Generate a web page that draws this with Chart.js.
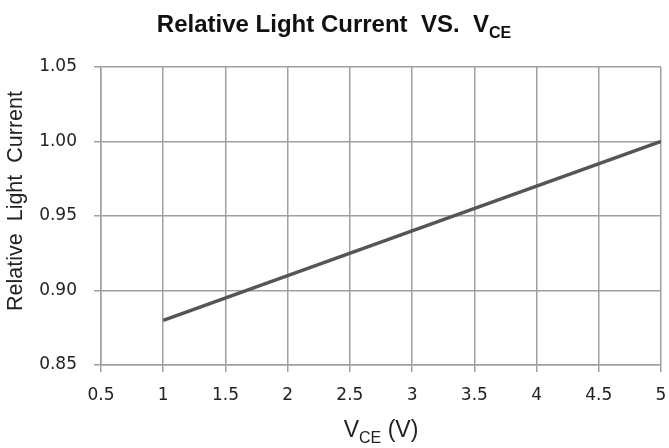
<!DOCTYPE html>
<html>
<head>
<meta charset="utf-8">
<script src="https://cdn.jsdelivr.net/npm/chart.js@4.4.1/dist/chart.umd.min.js"></script>
<style>
    html, body { margin: 0; padding: 0; background: #fff; }
    #wrap { width: 669px; height: 448px; }
</style>
</head>
<body>
<div id="wrap"><canvas id="lightChart"></canvas></div>
<script>
const vce = [1, 2, 3, 4, 5];
const relativeCurrent = [0.88, 0.91, 0.94, 0.97, 1.00];
const xTicks = [0.5, 1, 1.5, 2, 2.5, 3, 3.5, 4, 4.5, 5];
const xTickLabels = ['0.5', '1', '1.5', '2', '2.5', '3', '3.5', '4', '4.5', '5'];
const yTicks = [0.85, 0.90, 0.95, 1.00, 1.05];
const yTickLabels = ['0.85', '0.90', '0.95', '1.00', '1.05'];

const GRID = '#a0a0a0';
const TEXT = '#222222';
const tickFont = { family: '"DejaVu Sans", sans-serif', size: 17 };

// text runs with a subscript part ("V" + "CE"), the stock titles can't do that
function drawRuns(ctx, runs, cx, baseY, size, weight, family) {
    const subSize = Math.round(size * 0.68);
    const fontOf = (r) => `${weight} ${r.sub ? subSize : size}px ${family}`;
    let total = 0;
    runs.forEach((r) => {
        ctx.font = fontOf(r);
        r.w = ctx.measureText(r.text).width;
        total += r.w;
    });
    let x = cx - total / 2;
    ctx.textAlign = 'left';
    ctx.textBaseline = 'alphabetic';
    runs.forEach((r) => {
        ctx.font = fontOf(r);
        ctx.fillText(r.text, x, r.sub ? baseY + size * 0.24 : baseY);
        x += r.w;
    });
}

const titlesPlugin = {
    id: 'titles',
    afterDraw(chart) {
        const { ctx, chartArea } = chart;
        ctx.save();
        ctx.fillStyle = '#111';
        drawRuns(ctx, [{ text: 'Relative Light Current  VS.  V' }, { text: 'CE', sub: true }],
            334, 32, 24, 'bold', '"Liberation Sans Narrow", "Liberation Sans", Arial');

        ctx.fillStyle = TEXT;
        drawRuns(ctx, [{ text: 'V' }, { text: 'CE', sub: true }, { text: ' (V)' }],
            (chartArea.left + chartArea.right) / 2, 437, 23, 'normal', '"Liberation Sans Narrow", "Liberation Sans", Arial');

        ctx.translate(16, 201);
        ctx.rotate(-Math.PI / 2);
        ctx.font = '21.5px "Liberation Sans", Arial';
        ctx.textAlign = 'center';
        ctx.textBaseline = 'middle';
        ctx.fillText('Relative  Light  Current', 0, 0);
        ctx.restore();
    },
};

new Chart(document.getElementById('lightChart'), {
    type: 'line',
    data: {
        datasets: [
            {
                label: 'Relative Light Current',
                data: vce.map((v, i) => ({ x: v, y: relativeCurrent[i] })),
                borderColor: '#555555',
                borderWidth: 3.5,
                pointRadius: 0,
                tension: 0,
                fill: false,
            },
        ],
    },
    options: {
        responsive: true,
        maintainAspectRatio: false,
        animation: false,
        layout: { padding: { top: 67, right: 8, left: 0, bottom: 0 } },
        plugins: {
            legend: { display: false },
            tooltip: { enabled: false },
        },
        scales: {
            x: {
                type: 'linear',
                min: 0.5,
                max: 5,
                afterBuildTicks: (s) => { s.ticks = xTicks.map((v) => ({ value: v })); },
                afterFit: (s) => {
                    s.height = 83;
                    s.paddingLeft = 0;
                    s.paddingRight = 0;
                },
                grid: { color: GRID, lineWidth: 1.5, tickLength: 7 },
                border: { color: GRID, width: 1.5 },
                ticks: {
                    color: TEXT,
                    font: tickFont,
                    padding: 13,
                    maxRotation: 0,
                    callback: (v, i) => xTickLabels[i],
                },
            },
            y: {
                min: 0.85,
                max: 1.05,
                afterBuildTicks: (s) => { s.ticks = yTicks.map((v) => ({ value: v })); },
                afterFit: (s) => { s.width = 101; },
                grid: { color: GRID, lineWidth: 1.5, tickLength: 7 },
                border: { color: GRID, width: 1.5 },
                ticks: {
                    color: TEXT,
                    font: tickFont,
                    padding: 17,
                    callback: (v, i) => yTickLabels[i],
                },
            },
        },
    },
    plugins: [titlesPlugin],
});
</script>
</body>
</html>
